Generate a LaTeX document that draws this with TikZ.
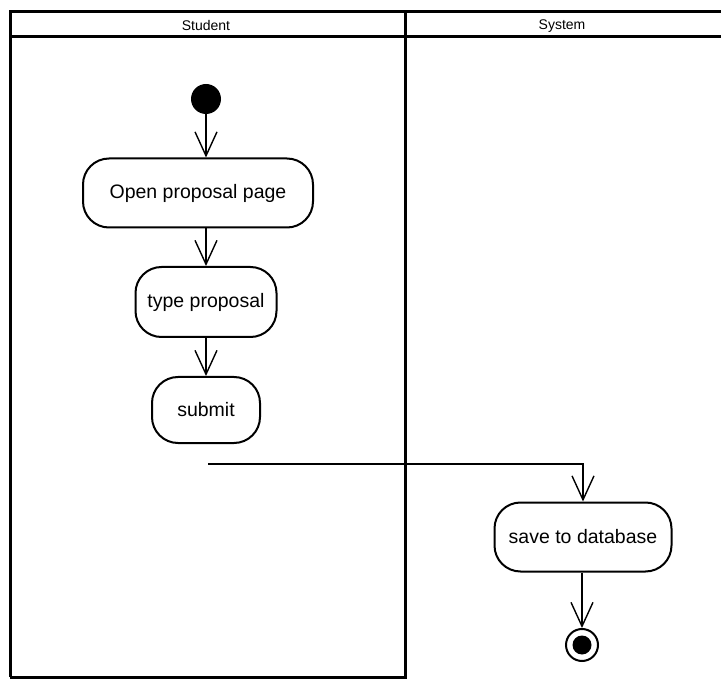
\documentclass[tikz,border=0pt]{standalone}
\usepackage{fontspec}
\setmainfont{Liberation Sans}
\usetikzlibrary{arrows.meta}
\begin{document}
\begin{tikzpicture}[x=1pt,y=-1pt,
  lane/.style={line width=3pt},
  action/.style={draw, line width=2pt, rounded corners=26pt, align=center,
    font=\fontsize{19.5}{22}\selectfont, inner sep=0pt},
  flow/.style={line width=1.4pt, -{Straight Barb[length=24pt,width=22pt,line width=1.4pt]}},
  lanetitle/.style={font=\fontsize{14}{16}\selectfont}]
\useasboundingbox (0,0) rectangle (721,679);

% swimlane frame
\draw[lane] (10,677) -- (10,12) -- (722,12);
\draw[lane] (10,37) -- (722,37);
\draw[lane] (405,12) -- (405,679);
\draw[lane] (10,677) -- (405,677);
\node[lanetitle] (tStudent) at (206,25) {Student};
\node[lanetitle] (tSystem) at (562,26) {System};

% actions
\node[circle, fill=black, minimum size=30pt, inner sep=0pt] (start) at (206,99) {};
\node[action, minimum width=230pt, minimum height=69pt] (open) at (198,193) {Open proposal page};
\node[action, minimum width=141pt, minimum height=70pt] (type) at (206,302) {type proposal};
\node[action, minimum width=108pt, minimum height=66pt] (submit) at (206,410) {submit};
\node[action, minimum width=177pt, minimum height=69pt] (save) at (583,537) {save to database};
\node[circle, draw, line width=2pt, minimum size=32pt, inner sep=0pt] (final) at (582,645) {};
\node[circle, fill=black, minimum size=19pt, inner sep=0pt] (finaldot) at (final) {};

% transitions
\draw[flow] (start) -- (start |- open.north);
\draw[flow] (type.north |- open.south) -- (type.north);
\draw[flow] (type) -- (submit);
\coordinate (sendoff) at (208,464);
\draw[flow] (sendoff) -| (save.north);
\draw[flow] (final |- save.south) -- (final.north);
\end{tikzpicture}
\end{document}
